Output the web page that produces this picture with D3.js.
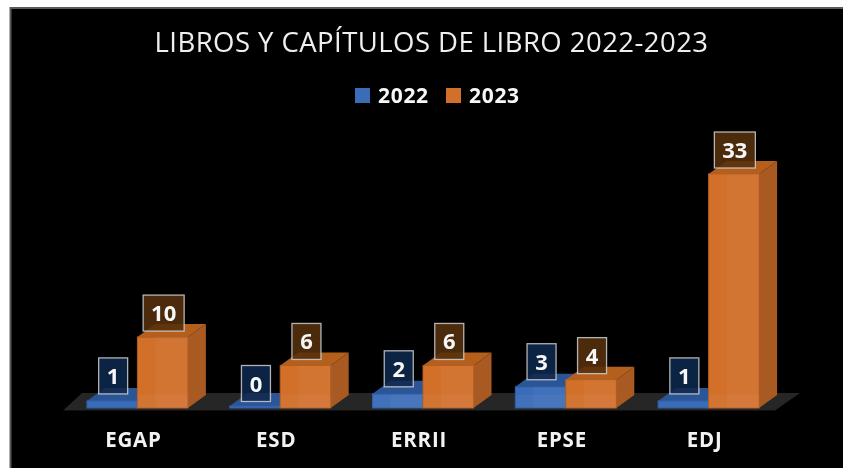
<!DOCTYPE html>
<html><head><meta charset="utf-8">
<script src="https://cdn.jsdelivr.net/npm/d3@7"></script>
<style>html,body{margin:0;padding:0;background:#fff;overflow:hidden}svg{display:block}</style>
</head><body><svg id="c" width="843" height="468"></svg>
<script>
const categories = ["EGAP","ESD","ERRII","EPSE","EDJ"];
const values2022 = [1,0,2,3,1];
const values2023 = [10,6,6,4,33];
const years = ["2022","2023"];
const titleText = "LIBROS Y CAPÍTULOS DE LIBRO 2022-2023";
const colours = {"2022":{front:"#3a6cb8",edge:"#2f5da3",side:"#2c5391",top:"#2a5597",box:"#12284f"},
                 "2023":{front:"#d2702c",edge:"#b45f22",side:"#a85a24",top:"#b4601f",box:"#55300f"}};
const dx=18,dy=13;
const svg=d3.select("#c");
const font="'Open Sans','Noto Sans',sans-serif";
const defs=svg.append("defs");
defs.append("filter").attr("id","soft").attr("x","-5%").attr("y","-5%").attr("width","110%").attr("height","110%")
  .append("feGaussianBlur").attr("stdDeviation",0.6);
svg.append("rect").attr("x",10.5).attr("y",8).attr("width",860).attr("height",490)
  .attr("fill","#000").attr("stroke","#5a5a5a").attr("stroke-width",2);
const g=svg.append("g").attr("filter","url(#soft)");
const x=d3.scaleBand().domain(categories).range([66,780]);
const y=d3.scaleLinear().domain([0,33]).range([408,174]);
const inner=d3.scaleBand().domain(years).range([0,101]);
const barOffset=(x.bandwidth()-101)/2;
const poly=p=>p.map(q=>q.join(",")).join(" ");
// floor
g.append("polygon").attr("fill","#262626").attr("points",poly([
  [x.range()[0]-3,410.5],[x.range()[1]-5,410.5],[x.range()[1]+20,393],[x.range()[0]+16,393]]));
g.append("text").attr("x",431.5).attr("y",52).attr("text-anchor","middle").attr("fill","#efefef")
  .attr("font-family",font).attr("font-size",27.5).attr("letter-spacing",.45).text(titleText);
// legend
const legendX=d3.scaleOrdinal().domain(years).range([355,446]);
years.forEach(k=>{
  g.append("rect").attr("x",legendX(k)).attr("y",88).attr("width",15).attr("height",15).attr("fill",colours[k].front);
  g.append("text").attr("x",legendX(k)+23).attr("y",103).attr("fill","#f7f7f7").attr("font-weight",700)
   .attr("font-family",font).attr("font-size",21).attr("letter-spacing",.7).text(k);
});
// bars
const series={"2022":values2022,"2023":values2023};
const labels=[];
categories.forEach((c,i)=>{
  years.forEach(k=>{
    const v=series[k][i],col=colours[k];
    const x0=x(c)+barOffset+inner(k),w=inner.bandwidth();
    const top=v===0?y(0)-2:y(v),bot=y(0);
    const b=g.append("g");
    b.append("polygon").attr("fill",col.side).attr("points",poly([[x0+w,top],[x0+w+dx,top-dy],[x0+w+dx,bot-dy],[x0+w,bot]]));
    b.append("polygon").attr("fill",col.top).attr("points",poly([[x0,top],[x0+dx,top-dy],[x0+w+dx,top-dy],[x0+w,top]]));
    b.append("rect").attr("x",x0).attr("y",top).attr("width",w).attr("height",bot-top).attr("fill",col.front)
      .attr("stroke",col.edge).attr("stroke-width",1);
    if(bot-top>dy){
      b.append("rect").attr("x",x0+dx).attr("y",top).attr("width",w-dx).attr("height",bot-top).attr("fill","#fff").attr("fill-opacity",.035);
      b.append("rect").attr("x",x0).attr("y",bot-dy).attr("width",w).attr("height",dy).attr("fill","#fff").attr("fill-opacity",.035);
    }
    labels.push({v,k,cx:x0+w/2+1,top});
  });
});
// value labels
labels.forEach(d=>{
  const bw=d.v>=10?41:29,bh=36;
  const cy=d.top-(d.k==="2022"?(d.v===0?22.5:25):24);
  g.append("rect").attr("x",d.cx-bw/2).attr("y",cy-bh/2).attr("width",bw).attr("height",bh)
    .attr("fill",colours[d.k].box).attr("fill-opacity",.88).attr("stroke","#cfcfcf").attr("stroke-opacity",.85).attr("stroke-width",1.3);
  g.append("text").attr("x",d.cx).attr("y",cy+8).attr("text-anchor","middle").attr("fill","#f7f7f7")
    .attr("font-family",font).attr("font-weight",700).attr("font-size",22).text(d.v);
});
// category axis
const axis=d3.axisBottom(x).tickSize(0).tickPadding(0);
const ax=g.append("g").attr("transform","translate(-4,447)").call(axis);
ax.select(".domain").remove();
ax.selectAll("text").attr("fill","#f2f2f2").attr("font-family",font).attr("font-weight",700).attr("font-size",20.5)
  .attr("letter-spacing",.8).attr("dy",0);
</script></body></html>
